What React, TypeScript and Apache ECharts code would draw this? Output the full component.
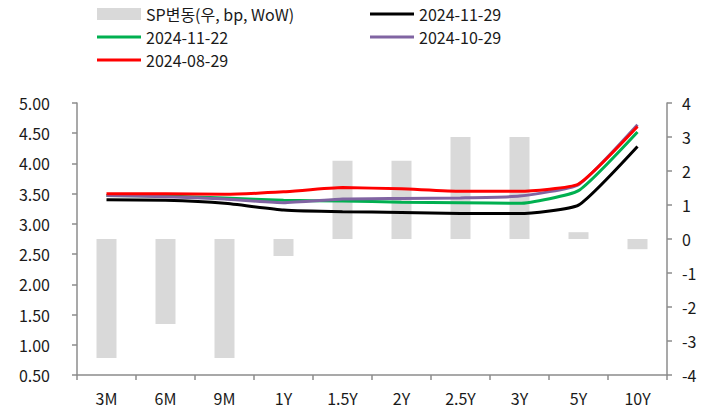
import React, { useEffect, useRef } from "react";
import * as echarts from "echarts";

const categories = ["3M", "6M", "9M", "1Y", "1.5Y", "2Y", "2.5Y", "3Y", "5Y", "10Y"];
const spChange = [-3.5, -2.5, -3.5, -0.5, 2.3, 2.3, 3.0, 3.0, 0.2, -0.3];
const y20241129 = [3.4, 3.39, 3.34, 3.23, 3.2, 3.19, 3.17, 3.17, 3.31, 4.28];
const y20241122 = [3.47, 3.46, 3.43, 3.39, 3.38, 3.36, 3.35, 3.34, 3.55, 4.52];
const y20241029 = [3.47, 3.45, 3.41, 3.35, 3.41, 3.42, 3.43, 3.46, 3.65, 4.64];
const y20240829 = [3.5, 3.5, 3.49, 3.53, 3.6, 3.58, 3.54, 3.54, 3.66, 4.61];

const FONT = "'Noto Sans CJK KR', 'Noto Sans', sans-serif";
const TXT = "#1a1a1a";
const AXIS = "#8c8c8c";

export default function App() {
  const ref = useRef<HTMLDivElement>(null);
  useEffect(() => {
    if (!ref.current) return;
    const chart = echarts.init(ref.current, null, { renderer: "svg" });
    const legendBase = {
      padding: 0,
      itemWidth: 44,
      itemGap: 5,
      textStyle: { fontFamily: FONT, fontSize: 16, color: TXT, lineHeight: 18 },
    };
    const lineLegend = (name: string, left: number, center: number) => ({
      ...legendBase,
      left,
      top: center - 9,
      itemHeight: 3,
      icon: "rect",
      data: [{ name, icon: "rect" }],
    });
    const lineSeries = (name: string, data: number[], color: string) => ({
      name,
      type: "line",
      yAxisIndex: 0,
      data,
      smooth: 0.15,
      symbol: "none",
      lineStyle: { color, width: 3 },
      itemStyle: { color },
    });
    chart.setOption({
      animation: false,
      textStyle: { fontFamily: FONT },
      legend: [
        { ...legendBase, itemHeight: 12, left: 97, top: 5, data: [{ name: "SP변동(우, bp, WoW)", icon: "rect" }] },
        lineLegend("2024-11-29", 370, 14),
        lineLegend("2024-11-22", 97, 37),
        lineLegend("2024-10-29", 370, 37),
        lineLegend("2024-08-29", 97, 60),
      ],
      grid: { left: 77, right: 51, top: 103, bottom: 37 },
      xAxis: {
        type: "category",
        data: categories,
        boundaryGap: true,
        axisLine: { onZero: false, lineStyle: { color: AXIS, width: 1.5 } },
        axisTick: { show: true, alignWithLabel: false, length: 5, lineStyle: { color: AXIS, width: 1.5 } },
        axisLabel: { color: TXT, fontSize: 16, fontFamily: FONT, margin: 15, interval: 0 },
        splitLine: { show: false },
      },
      yAxis: [
        {
          type: "value",
          min: 0.5,
          max: 5,
          interval: 0.5,
          position: "left",
          axisLine: { show: true, lineStyle: { color: AXIS, width: 1.5 } },
          axisTick: { show: true, length: 5, lineStyle: { color: AXIS, width: 1.5 } },
          axisLabel: {
            color: TXT,
            fontSize: 16,
            fontFamily: FONT,
            margin: 27,
            formatter: (v: number) => v.toFixed(2),
          },
          splitLine: { show: false },
        },
        {
          type: "value",
          min: -4,
          max: 4,
          interval: 1,
          position: "right",
          axisLine: { show: true, lineStyle: { color: AXIS, width: 1.5 } },
          axisTick: { show: true, length: 5, lineStyle: { color: AXIS, width: 1.5 } },
          axisLabel: { color: TXT, fontSize: 16, fontFamily: FONT, margin: 15 },
          splitLine: { show: false },
        },
      ],
      series: [
        {
          name: "SP변동(우, bp, WoW)",
          type: "bar",
          yAxisIndex: 1,
          data: spChange,
          barWidth: 20,
          itemStyle: { color: "#d9d9d9" },
        },
        lineSeries("2024-11-29", y20241129, "#000000"),
        lineSeries("2024-11-22", y20241122, "#00b050"),
        lineSeries("2024-10-29", y20241029, "#8064a2"),
        lineSeries("2024-08-29", y20240829, "#ff0000"),
      ],
    });
    return () => chart.dispose();
  }, []);
  return <div ref={ref} style={{ width: 718, height: 412, position: "absolute", left: 0, top: 0 }} />;
}
